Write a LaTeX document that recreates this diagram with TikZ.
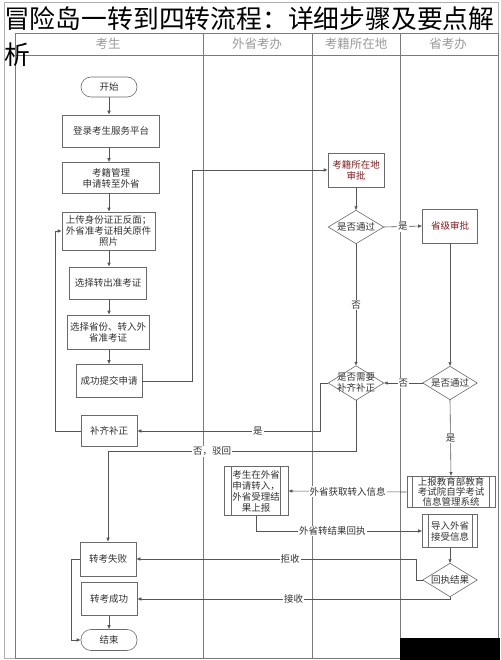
\documentclass[tikz,border=0pt]{standalone}
\usepackage{fontspec}
\setmainfont{Noto Sans CJK SC}
\usetikzlibrary{arrows.meta}
\definecolor{linec}{HTML}{555555}
\definecolor{boxc}{HTML}{6A6A6A}
\definecolor{txt}{HTML}{333333}
\definecolor{redt}{HTML}{8B1E1E}
\definecolor{hdr}{HTML}{9A9A9A}
\definecolor{lane}{HTML}{7A7A7A}
\newcommand\bxfont{\fontsize{9.5}{11}\selectfont}
\newcommand\hdfont{\fontsize{12.5}{14}\selectfont}
\begin{document}
\begin{tikzpicture}[x=1pt,y=-1pt,
  box/.style={draw=boxc, line width=0.6pt, fill=white, inner sep=1pt, align=center, font=\bxfont, text=txt},
  term/.style={box, rounded corners=10pt},
  dia/.style={inner sep=0pt, align=center, font=\bxfont, text=txt},
  shp/.style={draw=boxc, line width=0.6pt},
  arr/.style={draw=linec, line width=0.6pt, -{Latex[length=4pt,width=3.5pt]}},
  ln/.style={draw=linec, line width=0.6pt},
  lab/.style={fill=white, inner sep=1pt, font=\bxfont, text=txt},
  lanel/.style={draw=lane, line width=0.6pt},
  hd/.style={font=\hdfont, text=hdr}
]
\useasboundingbox (0,0) rectangle (500,660);
\fill[white] (0,0) rectangle (500,660);
% frame and lanes
\draw[draw=lane!60, line width=0.6pt] (4,2) rectangle (498,658);
\draw[lanel] (15,33) rectangle (498,658);
\draw[lanel] (15,55) -- (498,55);
\draw[lanel] (203,33) -- (203,658);
\draw[lanel] (312,33) -- (312,658);
\draw[lanel] (400,33) -- (400,658);
\node[hd] (h1) at (108,44) {考生};
\node[hd] (h2) at (257,44) {外省考办};
\node[hd] (h3) at (356,44) {考籍所在地};
\node[hd] (h4) at (448,44) {省考办};

% candidate lane
\node[term, minimum width=56, minimum height=20] (start) at (109,87) {开始};
\node[box, minimum width=97, minimum height=32] (login) at (111,131) {登录考生服务平台};
\node[box, minimum width=97, minimum height=31] (apply) at (111,178) {考籍管理\\申请转至外省};
\node[box, minimum width=93, minimum height=38] (upload) at (108.5,231) {上传身份证正反面；\\外省准考证相关原件\\照片};
\node[box, minimum width=77, minimum height=32] (choose1) at (108,283) {选择转出准考证};
\node[box, minimum width=82, minimum height=34] (choose2) at (108,332) {选择省份、转入外\\省准考证};
\node[box, minimum width=66, minimum height=33] (submit) at (109,381) {成功提交申请};
\node[box, minimum width=56, minimum height=31] (fix) at (109,431) {补齐补正};
\node[box, minimum width=56, minimum height=34] (fail) at (108,559) {转考失败};
\node[box, minimum width=56, minimum height=33] (succ) at (109,599) {转考成功};
\node[term, minimum width=56, minimum height=21] (end) at (109,640) {结束};

% home-region lane
\node[box, text=redt, minimum width=56, minimum height=34] (exam) at (356,170) {考籍所在地\\审批};
\node[dia, minimum width=55, minimum height=33] (d1) at (356,227) {是否通过};
\draw[shp] (d1.west) -- (d1.north) -- (d1.east) -- (d1.south) -- cycle;
\node[dia, minimum width=55, minimum height=34] (d3) at (356,383) {是否需要\\补齐补正};
\draw[shp] (d3.west) -- (d3.north) -- (d3.east) -- (d3.south) -- cycle;

% provincial lane
\node[box, text=redt, minimum width=55, minimum height=34] (prov) at (450,226) {省级审批};
\node[dia, minimum width=54, minimum height=33] (d2) at (450,383) {是否通过};
\draw[shp] (d2.west) -- (d2.north) -- (d2.east) -- (d2.south) -- cycle;
\node[box, minimum width=88, minimum height=31, font=\fontsize{9.5}{10.2}\selectfont] (report) at (451,492) {上报教育部教育\\考试院自学考试\\信息管理系统};
\draw[shp] ([xshift=6pt]report.north west) -- ([xshift=6pt]report.south west);
\draw[shp] ([xshift=-6pt]report.north east) -- ([xshift=-6pt]report.south east);
\node[box, minimum width=55, minimum height=33] (import) at (450,531) {导入外省\\接受信息};
\draw[shp] ([xshift=6pt]import.north west) -- ([xshift=6pt]import.south west);
\draw[shp] ([xshift=-6pt]import.north east) -- ([xshift=-6pt]import.south east);
\node[dia, minimum width=54, minimum height=33] (d4) at (450,580) {回执结果};
\draw[shp] (d4.west) -- (d4.north) -- (d4.east) -- (d4.south) -- cycle;

% other-province lane
\node[box, minimum width=64, minimum height=49] (other) at (256,491) {考生在外省\\申请转入，\\外省受理结\\果上报};
\draw[shp] ([xshift=8pt]other.north west) -- ([xshift=8pt]other.south west);
\draw[shp] ([xshift=-8pt]other.north east) -- ([xshift=-8pt]other.south east);

% connectors
\draw[arr] (start.south) -- (start.south |- login.north);
\draw[arr] (login.south -| start.south) -- (start.south |- apply.north);
\draw[arr] (apply.south -| start.south) -- (start.south |- upload.north);
\draw[arr] (upload.south -| start.south) -- (start.south |- choose1.north);
\draw[arr] (choose1.south -| start.south) -- (start.south |- choose2.north);
\draw[arr] (choose2.south -| start.south) -- (start.south |- submit.north);
\draw[arr] (submit.east) -- ++(50,0) |- (exam.west);
\draw[arr] (exam.south) -- (d1.north);
\draw[arr] (d1.east) -- node[lab] {是} (prov.west);
\draw[arr] (d1.south) -- node[lab] {否} (d3.north);
\draw[arr] (prov.south) -- (d2.north);
\draw[arr] (d2.west) -- node[lab] {否} (d3.east);
\draw[arr] (d3.west) -- ++(-8.5,0) |- node[lab, pos=0.67] {是} (fix.east);
\draw[arr] (d3.south) -- ++(0,51) -| node[lab, pos=0.29] {否，驳回} (fail.north);
\draw[arr] (fix.west) -- ++(-25,0) |- (upload.west);
\draw[arr] (d2.south) -- node[lab] {是} (report.north);
\draw[arr] (report.west) -- node[lab] {外省获取转入信息} (other.east);
\draw[arr] (other.south) |- node[lab, pos=0.73] {外省转结果回执} (import.west);
\draw[arr] (import.south) -- (d4.north);
\draw[arr] (d4.west) -- ++(-7,0) |- node[lab, pos=0.725] {拒收} (fail.east);
\draw[arr] (d4.south) |- node[lab, pos=0.75] {接收} (succ.east);
\draw[arr] (fail.west) -- ++(-8,0) |- (end.west);
\draw[arr] (succ.south -| end.north) -- (end.north);

% title overlay
\node[anchor=north west, inner sep=0pt, align=left, font=\fontsize{25.8}{36}\selectfont, text=black] (title) at (4,6) {冒险岛一转到四转流程：详细步骤及要点解\\析};
% watermark block
\fill[black] (400,638) rectangle (500,660);
\end{tikzpicture}
\end{document}
